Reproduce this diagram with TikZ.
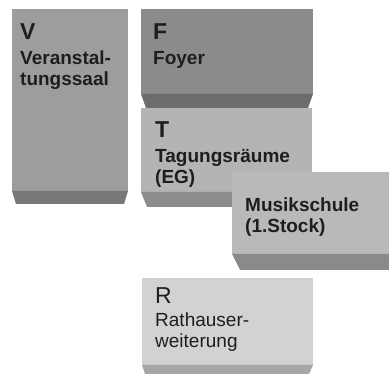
\documentclass[tikz,border=0pt]{standalone}
\usepackage{fontspec}
\setmainfont{Liberation Sans}
\definecolor{faceV}{HTML}{9D9DA0}
\definecolor{bevelV}{HTML}{78787B}
\definecolor{faceF}{HTML}{8B8B8E}
\definecolor{bevelF}{HTML}{6D6D70}
\definecolor{faceT}{HTML}{B4B4B6}
\definecolor{bevelT}{HTML}{8C8C8E}
\definecolor{faceM}{HTML}{B9B9BB}
\definecolor{bevelM}{HTML}{8A8A8C}
\definecolor{faceR}{HTML}{D2D2D4}
\definecolor{bevelR}{HTML}{A6A6A8}
\definecolor{ink}{HTML}{1E1E1E}
\tikzset{
  letter/.style={anchor=base west, inner sep=0pt, text=ink, font=\bfseries\fontsize{23}{23}\selectfont},
  lines/.style={anchor=base west, inner sep=0pt, text=ink, align=left, font=\bfseries\fontsize{19}{21}\selectfont},
}

\begin{document}
\begin{tikzpicture}[x=1pt,y=-1pt]
\useasboundingbox (0,0) rectangle (389,374);
% Veranstaltungssaal
\fill[faceV] (12,9) rectangle (128,191);
\fill[bevelV] (12,191) -- (128,191) -- (124,204) -- (16,204) -- cycle;
% Foyer
\fill[faceF] (141,9) rectangle (313,94);
\fill[bevelF] (141,94) -- (313,94) -- (308,108) -- (146,108) -- cycle;
% Tagungsraeume
\fill[faceT] (141,108) rectangle (312,192);
\fill[bevelT] (141,192) -- (312,192) -- (312,207) -- (147,207) -- cycle;
% Musikschule
\fill[faceM] (232,172) rectangle (389,254);
\fill[bevelM] (232,254) -- (389,254) -- (389,270) -- (240,270) -- cycle;
% Rathauserweiterung
\fill[faceR] (142,278) rectangle (313,365);
\fill[bevelR] (142,365) -- (313,365) -- (309,374) -- (145,374) -- cycle;

% labels (base = last line)
\node[letter] (vl) at (20,40) {V};
\node[lines] (vt) at (20,86) {Veranstal-\\tungssaal};
\node[letter] (fl) at (153,40) {F};
\node[lines] (ft) at (153,65) {Foyer};
\node[letter] (tl) at (155,138) {T};
\node[lines] (tt) at (155,184) {Tagungsräume\\(EG)};
\node[lines] (mt) at (245,233) {Musikschule\\(1.Stock)};
\node[letter, font=\fontsize{23}{23}\selectfont] (rl) at (155,304) {R};
\node[lines, font=\fontsize{19}{21}\selectfont] (rt) at (155,348) {Rathauser-\\weiterung};
\end{tikzpicture}
\end{document}
